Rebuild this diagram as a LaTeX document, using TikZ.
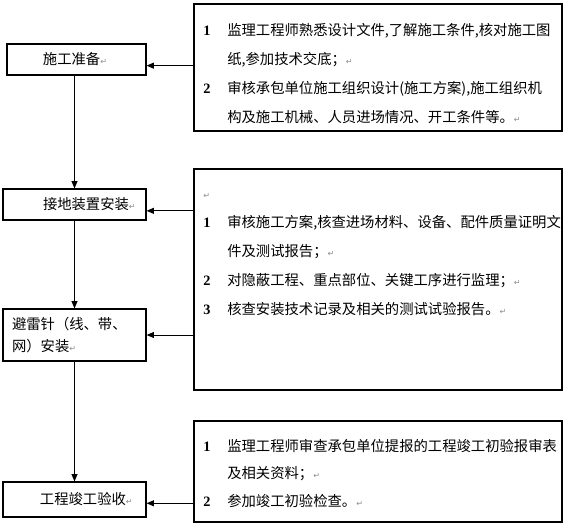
\documentclass[tikz,border=0pt]{standalone}
\usepackage{fontspec}
\setmainfont{Noto Sans CJK SC}
\newfontfamily\numfont{Liberation Serif}
\newfontfamily\symfont{DejaVu Sans}
\usepackage{tikz}
\usetikzlibrary{arrows.meta}
\newcommand{\retmark}{{\symfont\fontsize{6}{6}\selectfont\textcolor{black!45}{↵}}}
\newcommand{\nb}[1]{{\numfont\bfseries #1}}

\begin{document}
\begin{tikzpicture}[x=0.75pt,y=-0.75pt,
  stage/.style={draw,line width=0.9pt,inner xsep=0pt,inner ysep=0pt,align=left,
                text width=107.25pt,minimum height=23.25pt,
                font=\fontsize{10.75}{16.5}\selectfont},
  duty/.style={draw,line width=0.9pt,minimum width=276pt,inner sep=0pt},
  note/.style={anchor=base west,inner sep=0pt,font=\fontsize{10.75}{21.75}\selectfont},
  ar/.style={-{Triangle[length=5.5pt,width=4.5pt]},line width=0.75pt}]
\useasboundingbox (0,0) rectangle (569,526);

% stages
\node[stage,text width=104.25pt] (prep) at (76.5,59.5) {\hspace*{27pt}施工准备\retmark};
\node[stage] (earth) at (74.5,204.5) {\hspace*{30pt}接地装置安装\retmark};
\node[stage,minimum height=39pt] (rod) at (74.5,335) {\hspace*{6.75pt}避雷针（线、带、\\
  \hspace*{6.75pt}网）安装\retmark};
\node[stage,minimum height=26.25pt] (handover) at (74.5,499.5) {\hspace*{27.75pt}工程竣工验收\retmark};

\foreach \a/\b in {prep/earth,earth/rod,rod/handover} \draw[ar] (\a.south -| \b.north) -- (\b);

% supervision duties
\node[duty,minimum height=95.25pt] (prepduty) at (378,67.5) {};
\node[duty,minimum height=165.75pt] (installduty) at (378,279.5) {};
\node[duty,minimum height=75.75pt] (acceptduty) at (378,471.5) {};

\node[note] (prepitems) at (203,35.3) {\begin{tabular}[t]{@{}p{18pt}@{}l@{}}
  \nb1 & 监理工程师熟悉设计文件,了解施工条件,核对施工图\\
       & 纸,参加技术交底；\retmark\\
  \nb2 & 审核承包单位施工组织设计(施工方案),施工组织机\\
       & 构及施工机械、人员进场情况、开工条件等。\retmark
  \end{tabular}};

\node[note] (installitems) at (203,198.3) {\begin{tabular}[t]{@{}p{18pt}@{}l@{}}
  \multicolumn{2}{@{}l@{}}{\retmark}\\
  \nb1 & 审核施工方案,核查进场材料、设备、配件质量证明文\\
       & 件及测试报告；\retmark\\
  \nb2 & 对隐蔽工程、重点部位、关键工序进行监理；\retmark\\
  \nb3 & 核查安装技术记录及相关的测试试验报告。\retmark
  \end{tabular}};

\node[note,font=\fontsize{10.75}{20.6}\selectfont] (acceptitems) at (203,451.5) {\begin{tabular}[t]{@{}p{18pt}@{}l@{}}
  \nb1 & 监理工程师审查承包单位提报的工程竣工初验报审表\\
       & 及相关资料；\retmark\\
  \nb2 & 参加竣工初验检查。\retmark
  \end{tabular}};

\foreach \s/\t in {prepduty/prep.-5,installduty/earth.-5,installduty/rod.east,acceptduty/handover.-3}
  \draw[ar] (\s.west |- \t) -- (\t);
\end{tikzpicture}
\end{document}
